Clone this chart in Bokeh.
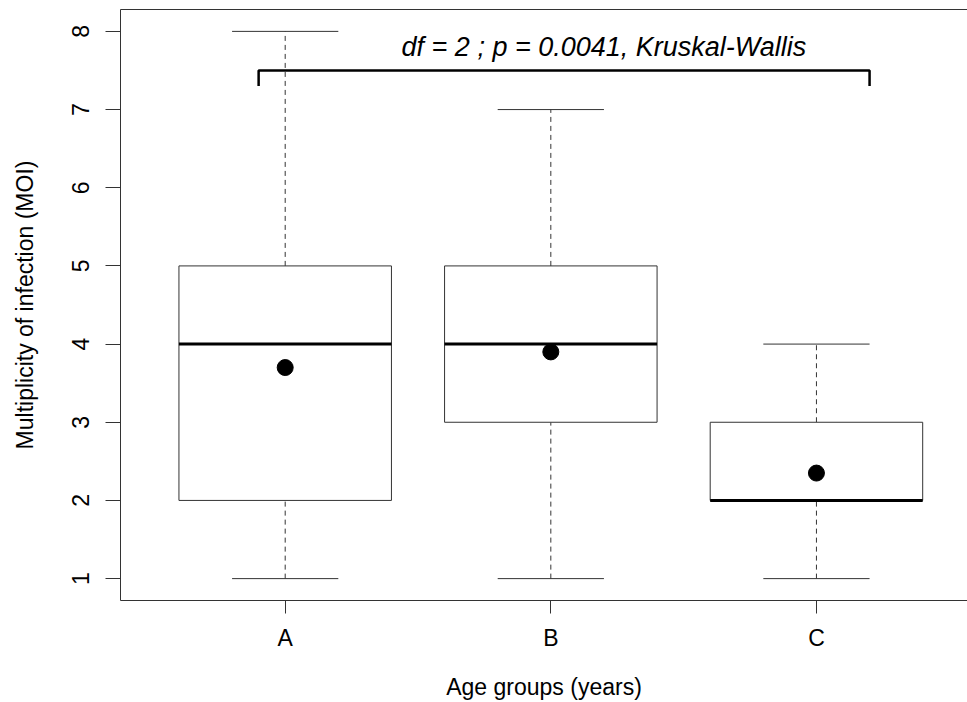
from bokeh.plotting import figure
from bokeh.models import FixedTicker, Range1d, ColumnDataSource, Label, LinearAxis
from bokeh.embed import file_html
from bokeh.resources import INLINE

# ---- data ----
categories = ["A", "B", "C"]
positions = [1, 2, 3]
lower_whisker = [1, 1, 1]
q1 = [2, 3, 2]
median = [4, 4, 2]
q3 = [5, 5, 3]
upper_whisker = [8, 7, 4]
means = [3.7, 3.9, 2.35]
y_ticks = [1, 2, 3, 4, 5, 6, 7, 8]
annotation = "df = 2 ; p = 0.0041, Kruskal-Wallis"

FONT = "Liberation Sans"
LINE = "#333333"

p = figure(width=967, height=702,
           x_range=Range1d(0.38, 3.5687), y_range=Range1d(0.72, 8.28),
           output_backend="svg", toolbar_location=None,
           min_border_left=120, min_border_right=0, min_border_top=9, min_border_bottom=102)
p.xgrid.visible = False
p.ygrid.visible = False
p.outline_line_color = None
p.background_fill_color = "white"
p.border_fill_color = "white"

bw = 0.4
cw = 0.2
src = ColumnDataSource(dict(
    x=positions, lo=lower_whisker, q1=q1, med=median, q3=q3, hi=upper_whisker, mean=means,
    left=[x - bw for x in positions], right=[x + bw for x in positions],
    cl=[x - cw for x in positions], cr=[x + cw for x in positions],
))

# whiskers (dashed)
p.segment(x0="x", y0="q3", x1="x", y1="hi", source=src, line_color=LINE, line_width=1, line_dash="5 4")
p.segment(x0="x", y0="lo", x1="x", y1="q1", source=src, line_color=LINE, line_width=1, line_dash="5 4")
# caps
p.segment(x0="cl", y0="hi", x1="cr", y1="hi", source=src, line_color=LINE, line_width=1)
p.segment(x0="cl", y0="lo", x1="cr", y1="lo", source=src, line_color=LINE, line_width=1)
# boxes
p.quad(left="left", right="right", bottom="q1", top="q3", source=src,
       fill_color="white", line_color=LINE, line_width=1)
# medians
p.segment(x0="left", y0="med", x1="right", y1="med", source=src, line_color="black", line_width=3)
# means
p.scatter(x="x", y="mean", source=src, size=16, color="black")

# bracket
p.line(x=[0.9, 0.9, 3.2, 3.2], y=[7.3, 7.5, 7.5, 7.3], line_color="black", line_width=2.5)
p.add_layout(Label(x=2.2, y=7.80, text=annotation, text_align="center", text_baseline="middle",
                   text_font=FONT, text_font_style="italic", text_font_size="27px",
                   text_color="black"))

# axes
for ax in (p.xaxis[0], p.yaxis[0]):
    ax.axis_line_color = LINE
    ax.major_tick_line_color = LINE
    ax.minor_tick_line_color = None
    ax.major_tick_in = 0
    ax.major_label_text_font = FONT
    ax.major_label_text_font_size = "23px"
    ax.major_label_text_color = "black"
    ax.axis_label_text_font = FONT
    ax.axis_label_text_font_size = "23px"
    ax.axis_label_text_font_style = "normal"
    ax.axis_label_text_color = "black"

p.xaxis.ticker = FixedTicker(ticks=positions)
p.xaxis.major_label_overrides = {x: c for x, c in zip(positions, categories)}
p.xaxis.major_tick_out = 13
p.xaxis.major_label_standoff = 11
p.xaxis.axis_label = "Age groups (years)"
p.xaxis.axis_label_standoff = 20

p.yaxis.ticker = FixedTicker(ticks=y_ticks)
p.yaxis.major_tick_out = 15
p.yaxis.major_label_orientation = "vertical"
p.yaxis.major_label_standoff = 16
p.yaxis.axis_label = "Multiplicity of infection (MOI)"
p.yaxis.axis_label_standoff = 32

top = LinearAxis(ticker=FixedTicker(ticks=[]), axis_line_color=LINE, major_tick_out=0, major_tick_in=0,
                 minor_tick_line_color=None, major_label_standoff=0, major_label_text_font_size="0px")
p.add_layout(top, "above")

open("out.html", "w").write(file_html(p, INLINE))
